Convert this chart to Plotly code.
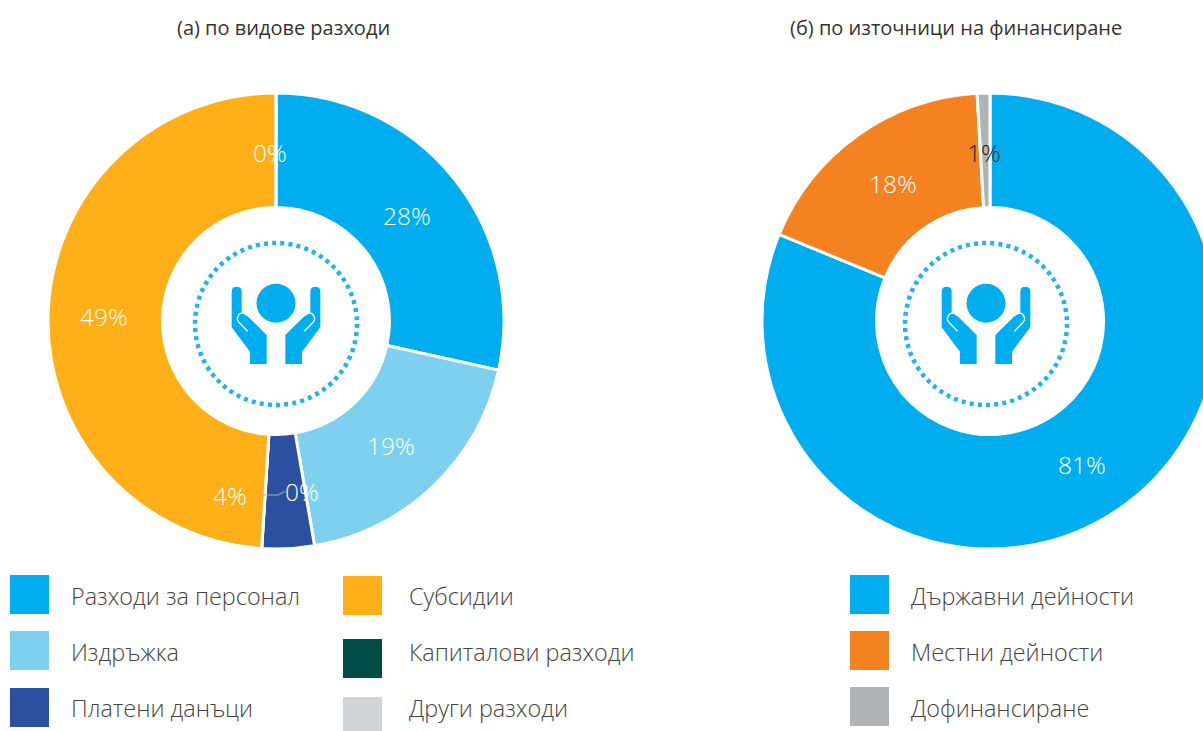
import math
import plotly.graph_objects as go

titles = ["(а) по видове разходи", "(б) по източници на финансиране"]
cats_a = ["Разходи за персонал", "Издръжка", "Платени данъци", "Капиталови разходи", "Субсидии", "Други разходи"]
vals_a = [28.4, 18.8, 3.7, 0, 48.9, 0]
cols_a = ["#00AEEF", "#7DD1EE", "#2B50A0", "#004D47", "#FFAF18", "#D1D3D4"]
cats_b = ["Държавни дейности", "Местни дейности", "Дофинансиране"]
vals_b = [81.2, 17.9, 0.9]
cols_b = ["#00AEEF", "#F58220", "#B1B3B6"]

W, H = 1218, 731
FONT = "Open Sans"
R, RH = 228, 113.5
CA, CB = (276, 321), (990, 321)


def X(p):
    return p / W


def Y(p):
    return 1 - p / H


def pie(cats, vals, cols, c):
    return go.Pie(
        labels=cats, values=vals, sort=False, direction="clockwise", rotation=0,
        hole=RH / R, marker=dict(colors=cols, line=dict(color="white", width=3)),
        textinfo="none", hoverinfo="label+percent", showlegend=False,
        domain=dict(x=[X(c[0] - R), X(c[0] + R)], y=[Y(c[1] + R), Y(c[1] - R)]),
    )


fig = go.Figure([pie(cats_a, vals_a, cols_a, CA), pie(cats_b, vals_b, cols_b, CB)])
shapes, annos = [], []


def text(x, y, s, size, color, anchor="center", weight=300):
    annos.append(dict(x=X(x), y=Y(y), xref="paper", yref="paper", text=s, showarrow=False,
                      xanchor=anchor, yanchor="middle",
                      font=dict(family=FONT, size=size, color=color, weight=weight)))


def pct_labels(vals, c, nudges, colors):
    tot = sum(vals)
    cum = 0
    for v, n, col in zip(vals, nudges, colors):
        a = 2 * math.pi * (cum + v / 2) / tot
        x = c[0] + 171 * math.sin(a) + n[0]
        y = c[1] - 171 * math.cos(a) + n[1]
        text(x, y, f"{round(v)}%", 24.5, col)
        cum += v


pct_labels(vals_a, CA, [(-2, 1.5), (-3, 1), (-55, 4), (37, 0), (-1, 1), (-6, 2)], ["white"] * 6)
pct_labels(vals_b, CB, [(-3, 1), (2, 2), (-1, 2)], ["white", "white", "#222222"])

# leader line for the 0% label
shapes.append(dict(type="path", xref="paper", yref="paper", line=dict(color="#A7A9AC", width=1.2),
                   path=f"M{X(263)},{Y(495)} L{X(278)},{Y(495)} L{X(285)},{Y(491.5)}"))


def icon(cx):
    cy = 324
    shapes.append(dict(type="circle", xref="paper", yref="paper",
                       x0=X(cx - 81), x1=X(cx + 81), y0=Y(cy + 81), y1=Y(cy - 81),
                       line=dict(color="#1FB3F0", width=4.5, dash="4px,4.2px")))
    shapes.append(dict(type="circle", xref="paper", yref="paper", fillcolor="#00AEEF",
                       x0=X(cx - 19.5), x1=X(cx + 19.5), y0=Y(303.3 + 19.5), y1=Y(303.3 - 19.5),
                       line=dict(width=0)))

    def pts(sign, ops):
        out = []
        for op in ops:
            if isinstance(op, str):
                out.append(op)
            else:
                zx, zy = op
                px = cx + sign * (318 - zx) / 3
                py = 220 + zy / 3
                out.append(f"{X(px)},{Y(py)}")
        return " ".join(out)

    hand = ["M", (185, 215), "Q", (185, 200), (200, 200), "Q", (215, 200), (215, 215), "L", (215, 280),
            "L", (226, 282), "L", (290, 345), "L", (290, 432), "L", (240, 432), "L", (240, 395),
            "L", (185, 322), "Z"]
    crease = ["M", (233, 334), "L", (206, 306), "Q", (197, 292), (210, 281), "Q", (220, 276), (232, 287)]
    for s in (-1, 1):
        shapes.append(dict(type="path", xref="paper", yref="paper", fillcolor="#00AEEF",
                           line=dict(width=0), path=pts(s, hand)))
        shapes.append(dict(type="path", xref="paper", yref="paper",
                           line=dict(color="white", width=1.3), path=pts(s, crease)))


icon(276)
icon(986)

text(283, 27, titles[0], 20, "#333333", weight=400)
text(956, 27, titles[1], 20, "#333333", weight=400)


def legend(cats, cols, sx, rows):
    for name, col, top in zip(cats, cols, rows):
        shapes.append(dict(type="rect", xref="paper", yref="paper", fillcolor=col, line=dict(width=0),
                           x0=X(sx), x1=X(sx + 39), y0=Y(top + 39), y1=Y(top)))


order1 = [0, 1, 2]
order2 = [4, 3, 5]
legend([cats_a[i] for i in order1], [cols_a[i] for i in order1], 10, [575, 631, 688])
legend([cats_a[i] for i in order2], [cols_a[i] for i in order2], 343, [576, 639, 697])
legend(cats_b, cols_b, 850, [575, 631, 687])
for x, names in ((69, [cats_a[i] for i in order1]), (407, [cats_a[i] for i in order2]), (909, cats_b)):
    for y, n in zip((596, 652, 708), names):
        text(x, y, n, 23.4, "#444444", anchor="left")

fig.update_layout(width=W, height=H, margin=dict(l=0, r=0, t=0, b=0), paper_bgcolor="white",
                  plot_bgcolor="white", shapes=shapes, annotations=annos, font=dict(family=FONT))
fig.write_html("out.html", config={"displayModeBar": False},
               post_script="document.body.style.margin='0';document.body.style.overflow='hidden';document.documentElement.style.overflow='hidden';")
